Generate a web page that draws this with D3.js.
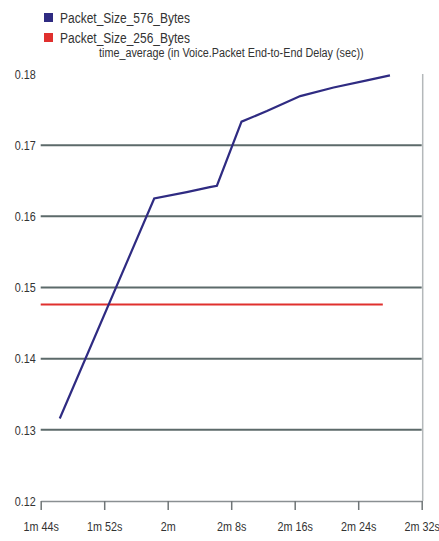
<!DOCTYPE html>
<html>
<head>
<meta charset="utf-8">
<script src="https://cdn.jsdelivr.net/npm/d3@7"></script>
<style>
  html, body { margin: 0; padding: 0; background: #fff; }
  svg { display: block; }
  text { font-family: "Liberation Sans", Arial, sans-serif; fill: #333; }
</style>
</head>
<body>
<svg id="chart" width="439" height="541"></svg>
<script>
// Simulation time (seconds) and average voice packet end-to-end delay (sec)
const seriesNames = ["Packet_Size_576_Bytes", "Packet_Size_256_Bytes"];
const seriesColors = ["#2f2b82", "#e0302e"];
const time576 = [106.4, 118.3, 122.4, 125.3, 126.2, 129.3, 132.5, 136.7, 140.9, 145.1, 148.0];
const delay576 = [0.1316, 0.1625, 0.1634, 0.1641, 0.1643, 0.1733, 0.1748, 0.1769, 0.1781, 0.1791, 0.1798];
const time256 = [104.0, 147.1];
const delay256 = [0.1476, 0.1476];
const xTicks = [104, 112, 120, 128, 136, 144, 152];
const yTicks = [0.12, 0.13, 0.14, 0.15, 0.16, 0.17, 0.18];
const gridValues = [0.13, 0.14, 0.15, 0.16, 0.17];
const title = "time_average (in Voice.Packet End-to-End Delay (sec))";

// Condensed look for all labels: squeeze glyphs horizontally
const SQ = 0.8;

const svg = d3.select("#chart");
const x = d3.scaleLinear().domain([104, 152]).range([40.7, 421.7]);
const y = d3.scaleLinear().domain([0.12, 0.18]).range([501, 74]);

const fmtTime = s => {
  const m = Math.floor(s / 60), r = Math.round(s - m * 60);
  return r === 0 ? `${m}m` : `${m}m ${r}s`;
};

// Legend
seriesNames.forEach((name, i) => {
  const g = svg.append("g").attr("transform", `translate(44,${13 + i * 20})`);
  g.append("rect").attr("width", 9).attr("height", 9).attr("fill", seriesColors[i]);
  g.append("text").attr("transform", `translate(16,9.5) scale(${SQ},1)`)
    .attr("font-size", 15).text(name);
});
svg.append("text").attr("transform", `translate(99,57) scale(${SQ},1)`)
  .attr("font-size", 13.5).text(title);

// Right frame edge
svg.append("line")
  .attr("x1", x(152) + 1).attr("x2", x(152) + 1)
  .attr("y1", y(0.18)).attr("y2", y(0.12))
  .attr("stroke", "#b4b8ba").attr("stroke-width", 1.5);

// Horizontal grid lines
svg.append("g").selectAll("line").data(gridValues).join("line")
  .attr("x1", x(104)).attr("x2", x(152))
  .attr("y1", d => y(d)).attr("y2", d => y(d))
  .attr("stroke", "#5c6a6a").attr("stroke-width", 2);

// X axis
const xAxis = d3.axisBottom(x).tickValues(xTicks).tickFormat(fmtTime).tickSize(9).tickSizeOuter(0);
const gx = svg.append("g").attr("transform", `translate(0,${y(0.12)})`).call(xAxis);
gx.select(".domain").attr("stroke", "#8a8f92").attr("stroke-width", 1.5);
gx.selectAll(".tick line").attr("stroke", "#6f7577").attr("stroke-width", 1.5);
gx.selectAll(".tick text").attr("font-size", 13.5).attr("y", 30).attr("dy", null)
  .attr("transform", `scale(${SQ},1)`)
  .attr("font-family", null).style("fill", "#333");

// Y axis labels
const yAxis = d3.axisLeft(y).tickValues(yTicks).tickFormat(d3.format(".2f")).tickSize(0).tickPadding(5);
const gy = svg.append("g").attr("transform", `translate(${x(104) - 1},0)`).call(yAxis);
gy.select(".domain").remove();
gy.selectAll(".tick text").attr("font-size", 13.5).attr("transform", `scale(${SQ},1)`)
  .attr("font-family", null).style("fill", "#333");

// Series lines
const line = d3.line().x(d => x(d[0])).y(d => y(d[1]));
svg.append("path")
  .datum(time256.map((t, i) => [t, delay256[i]]))
  .attr("d", line).attr("fill", "none")
  .attr("stroke", seriesColors[1]).attr("stroke-width", 2);
svg.append("path")
  .datum(time576.map((t, i) => [t, delay576[i]]))
  .attr("d", line).attr("fill", "none")
  .attr("stroke", seriesColors[0]).attr("stroke-width", 2.2);
</script>
</body>
</html>
